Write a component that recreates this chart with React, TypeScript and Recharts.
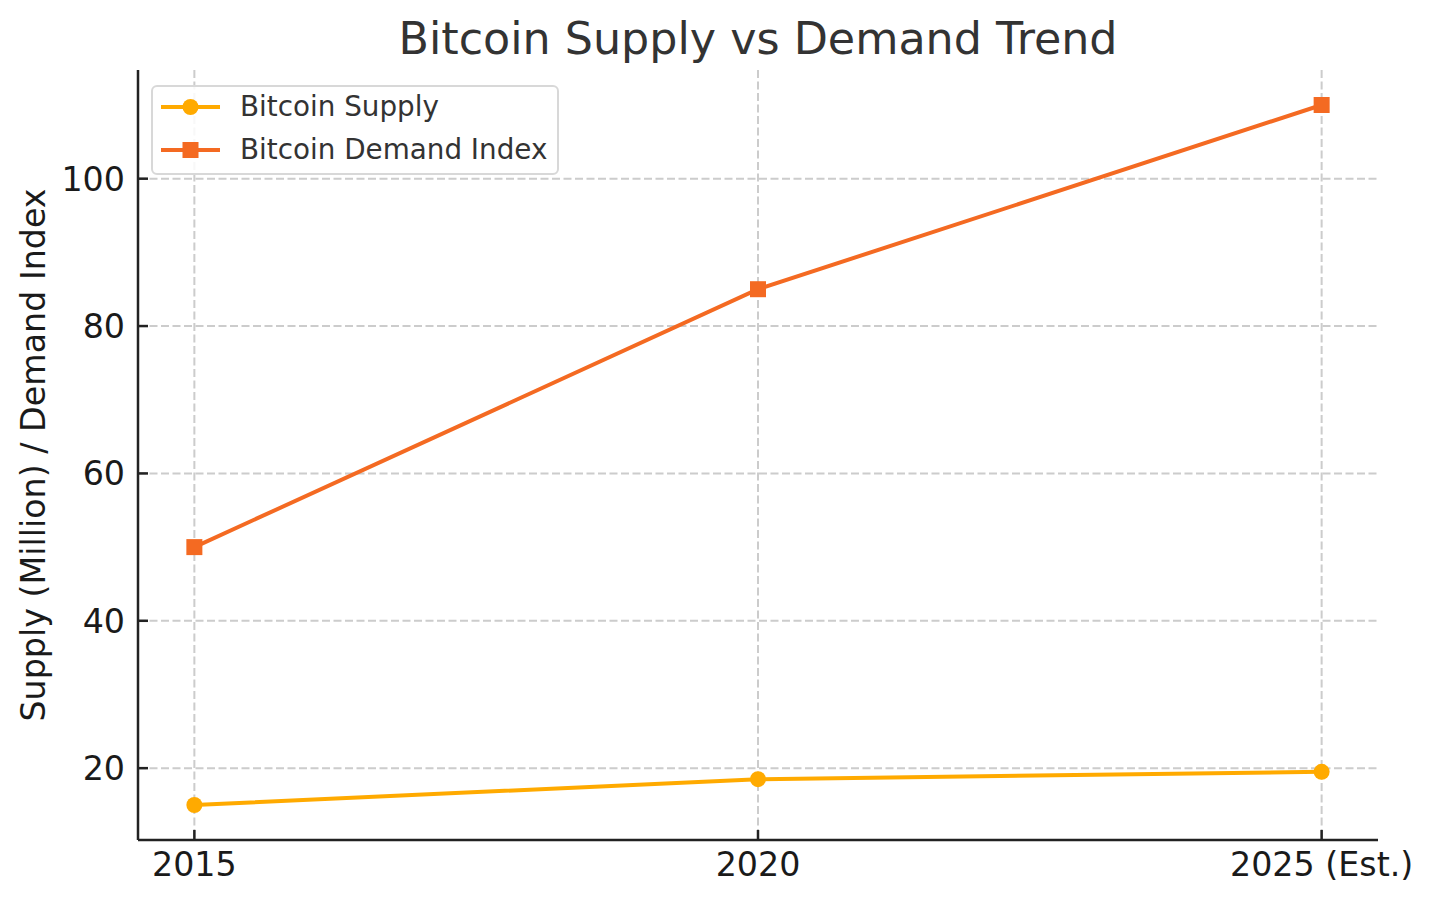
import React from 'react';
import { LineChart, Line, XAxis, YAxis, CartesianGrid, Legend, Customized } from 'recharts';

const categories = ['2015', '2020', '2025 (Est.)'];
const supplyValues = [15, 18.5, 19.5];
const demandValues = [50, 85, 110];
const yTicks = [20, 40, 60, 80, 100];
const xTicks = [0, 1, 2];

const SUPPLY_COLOR = '#FFAA00';
const DEMAND_COLOR = '#F46A22';
const FONT = '"DejaVu Sans", Verdana, sans-serif';

const data = categories.map((c, i) => ({ x: i, label: c, supply: supplyValues[i], demand: demandValues[i] }));
const seriesOrder = ['supply', 'demand'];

const W = 1433;
const H = 903;
const MARGIN = { top: 70, right: 55, bottom: 0, left: 58 };

const SquareDot = (props: any) => {
  const { cx, cy, index } = props;
  if (cx == null || cy == null) return <g key={`sq-${index}`} />;
  return <rect key={`sq-${index}`} x={cx - 8} y={cy - 8} width={16} height={16} fill={DEMAND_COLOR} />;
};

const YLabel = (props: any) => {
  const vb = props.viewBox || {};
  const cx = 45;
  const cy = vb.y + vb.height / 2;
  return (
    <text
      x={cx}
      y={cy}
      transform={`rotate(-90, ${cx}, ${cy})`}
      textAnchor="middle"
      fontFamily={FONT}
      fontSize={33.3}
      fill="#1a1a1a"
    >
      Supply (Million) / Demand Index
    </text>
  );
};

const Title = () => (
  <text x={758} y={54} textAnchor="middle" fontFamily={FONT} fontSize={44.4} fill="#333333">
    Bitcoin Supply vs Demand Trend
  </text>
);

const LegendContent = (props: any) => {
  const payload = [...(props.payload || [])].sort(
    (a: any, b: any) => seriesOrder.indexOf(a.dataKey) - seriesOrder.indexOf(b.dataKey)
  );
  return (
    <div
      style={{
        position: 'relative',
        width: 404,
        height: 86,
        border: '2px solid #d8d8d8',
        borderRadius: 6,
        background: 'rgba(255,255,255,0.85)',
        fontFamily: FONT,
        fontSize: 27.8,
        color: '#333333',
      }}
    >
      {payload.map((entry: any, i: number) => {
        const isDemand = entry.dataKey === 'demand';
        const rowY = i === 0 ? 20 : 63;
        return (
          <div key={i} style={{ position: 'absolute', left: 0, top: rowY - 16, height: 32, width: 400 }}>
            <svg width={80} height={32} style={{ position: 'absolute', left: 0, top: 0 }}>
              <line x1={8} x2={67} y1={16} y2={16} stroke={entry.color} strokeWidth={4} />
              {isDemand ? (
                <rect x={37.5 - 8} y={8} width={16} height={16} fill={entry.color} />
              ) : (
                <circle cx={37.5} cy={16} r={8} fill={entry.color} />
              )}
            </svg>
            <span style={{ position: 'absolute', left: 87, top: 0, lineHeight: '32px', whiteSpace: 'nowrap' }}>
              {entry.value}
            </span>
          </div>
        );
      })}
    </div>
  );
};

export default function App() {
  return (
    <div style={{ position: 'absolute', left: 0, top: 0, width: W, height: H, background: '#fff' }}>
      <LineChart width={W} height={H} data={data} margin={MARGIN}>
        <CartesianGrid
          stroke="#cccccc"
          strokeWidth={2}
          strokeDasharray="8 3.5"
          horizontalValues={yTicks}
          verticalValues={xTicks}
        />
        <XAxis
          dataKey="x"
          type="number"
          domain={[-0.1, 2.1]}
          ticks={xTicks}
          allowDataOverflow
          height={63}
          tickFormatter={(v: number) => categories[v]}
          axisLine={{ stroke: '#222222', strokeWidth: 2.5 }}
          tickLine={{ stroke: '#222222', strokeWidth: 2.5 }}
          tickSize={-10}
          tickMargin={22}
          tick={{ fontFamily: FONT, fontSize: 33.3, fill: '#1a1a1a' }}
          interval={0}
        />
        <YAxis
          type="number"
          domain={[10.25, 114.75]}
          ticks={yTicks}
          allowDataOverflow
          width={80}
          axisLine={{ stroke: '#222222', strokeWidth: 2.5 }}
          tickLine={{ stroke: '#222222', strokeWidth: 2.5 }}
          tickSize={-10}
          tickMargin={23}
          tick={{ fontFamily: FONT, fontSize: 33.3, fill: '#1a1a1a' }}
          interval={0}
          label={<YLabel />}
        />
        <Legend
          layout="vertical"
          align="center"
          verticalAlign="middle"
          content={<LegendContent />}
          wrapperStyle={{ left: 151, top: 85, width: 408, height: 90 }}
        />
        <Line
          name="Bitcoin Supply"
          dataKey="supply"
          stroke={SUPPLY_COLOR}
          strokeWidth={4}
          dot={{ r: 8, fill: SUPPLY_COLOR, stroke: 'none' }}
          isAnimationActive={false}
        />
        <Line
          name="Bitcoin Demand Index"
          dataKey="demand"
          stroke={DEMAND_COLOR}
          strokeWidth={4}
          dot={(p: any) => <SquareDot {...p} />}
          isAnimationActive={false}
        />
        <Customized component={<Title />} />
      </LineChart>
    </div>
  );
}
